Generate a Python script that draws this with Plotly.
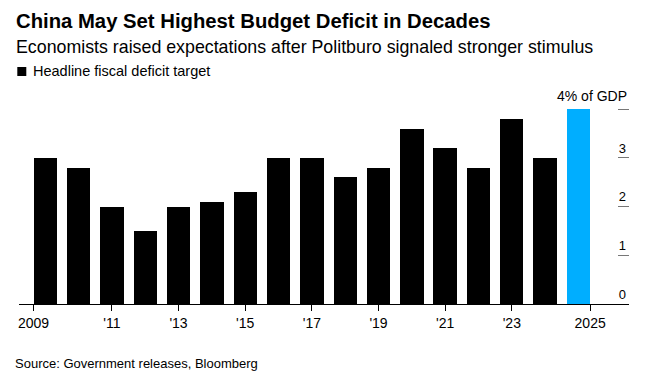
import plotly.graph_objects as go

years = list(range(2009, 2026))
deficit = [3.0, 2.8, 2.0, 1.5, 2.0, 2.1, 2.3, 3.0, 3.0, 2.6, 2.8, 3.6, 3.2, 2.8, 3.8, 3.0, 4.0]
hist_years, hist_vals = years[:-1], deficit[:-1]
target_year, target_val = years[-1:], deficit[-1:]

x_tick_years = [2009, 2011, 2013, 2015, 2017, 2019, 2021, 2023, 2025]
x_tick_text = ["2009", "'11", "'13", "'15", "'17", "'19", "'21", "'23", "2025"]
y_tick_vals = [0, 1, 2, 3, 4]
y_tick_text = ["0", "1", "2", "3", ""]

title = "China May Set Highest Budget Deficit in Decades"
subtitle = "Economists raised expectations after Politburo signaled stronger stimulus"
legend_label = "Headline fiscal deficit target"
target_label = "4% of GDP"
source = "Source: Government releases, Bloomberg"

W, H = 656, 371
ML, MR, MT, MB = 19, 27, 95, 67
BAR_W = 0.7
FONT = "Liberation Sans, Arial, Helvetica, sans-serif"

pw = W - ML - MR
ph = H - MT - MB


def px_x(px):
    return (px - ML) / pw


def px_y(py):
    return (H - MB - py) / ph


# first and last ticks sit at the outer bar edges, Bloomberg style
tick_pos = list(x_tick_years)
tick_pos[0] = x_tick_years[0] - BAR_W / 2
tick_pos[-1] = x_tick_years[-1] + BAR_W / 2

fig = go.Figure()
fig.add_trace(go.Bar(x=hist_years, y=hist_vals, width=BAR_W, name=legend_label,
                     marker=dict(color="#000000", line=dict(width=0)), showlegend=False))
fig.add_trace(go.Bar(x=target_year, y=target_val, width=BAR_W, name="2025 target",
                     marker=dict(color="#00AEFF", line=dict(width=0)), showlegend=False))

PX_PER_YEAR = 33.33
PX_PER_UNIT = 48.75
x0 = 2009 - (45.2 - ML) / PX_PER_YEAR
x1 = x0 + pw / PX_PER_YEAR
y_top = ph / PX_PER_UNIT

fig.update_layout(
    width=W, height=H,
    margin=dict(l=ML, r=MR, t=MT, b=MB, autoexpand=False),
    paper_bgcolor="white", plot_bgcolor="white",
    font=dict(family=FONT, color="#000000", size=14),
    bargap=0,
    xaxis=dict(range=[x0, x1], tickvals=tick_pos, ticktext=x_tick_text,
               showgrid=False, zeroline=False, showline=True, linecolor="#000000", linewidth=1,
               ticks="outside", ticklen=6, tickcolor="#000000", tickwidth=1,
               tickfont=dict(size=14, family=FONT, color="#000000")),
    yaxis=dict(range=[0, y_top], side="right", tickvals=y_tick_vals, ticktext=y_tick_text,
               showgrid=False, zeroline=False, showline=False,
               ticks="inside", ticklen=11, tickcolor="#777777", tickwidth=1,
               ticklabelposition="inside top",
               tickfont=dict(size=13, family=FONT, color="#000000")),
)

fig.add_annotation(x=1, xref="paper", xanchor="right", y=4, yref="y", yanchor="bottom",
                   yshift=3, text=target_label, showarrow=False,
                   font=dict(size=14, family=FONT, color="#000000"))

fig.add_annotation(x=px_x(14), xref="paper", xanchor="left", y=px_y(20.5), yref="paper",
                   yanchor="middle", text="<b>" + title + "</b>", showarrow=False,
                   font=dict(size=20.3, family=FONT, color="#000000"))
fig.add_annotation(x=px_x(14), xref="paper", xanchor="left", y=px_y(47), yref="paper",
                   yanchor="middle", text=subtitle, showarrow=False,
                   font=dict(size=17.8, family=FONT, color="#000000"))
fig.add_shape(type="rect", xref="paper", yref="paper",
              x0=px_x(17.3), x1=px_x(26.3), y0=px_y(76), y1=px_y(67),
              fillcolor="#000000", line=dict(width=0))
fig.add_annotation(x=px_x(31), xref="paper", xanchor="left", y=px_y(71.3), yref="paper",
                   yanchor="middle", text=legend_label, showarrow=False,
                   font=dict(size=14.5, family=FONT, color="#000000"))
fig.add_annotation(x=px_x(13), xref="paper", xanchor="left", y=px_y(363), yref="paper",
                   yanchor="middle", text=source, showarrow=False,
                   font=dict(size=13, family=FONT, color="#000000"))

fig.write_html("out.html", config={"displayModeBar": False},
               post_script="document.body.style.margin='0px';"
               "document.body.style.overflow='hidden';")
